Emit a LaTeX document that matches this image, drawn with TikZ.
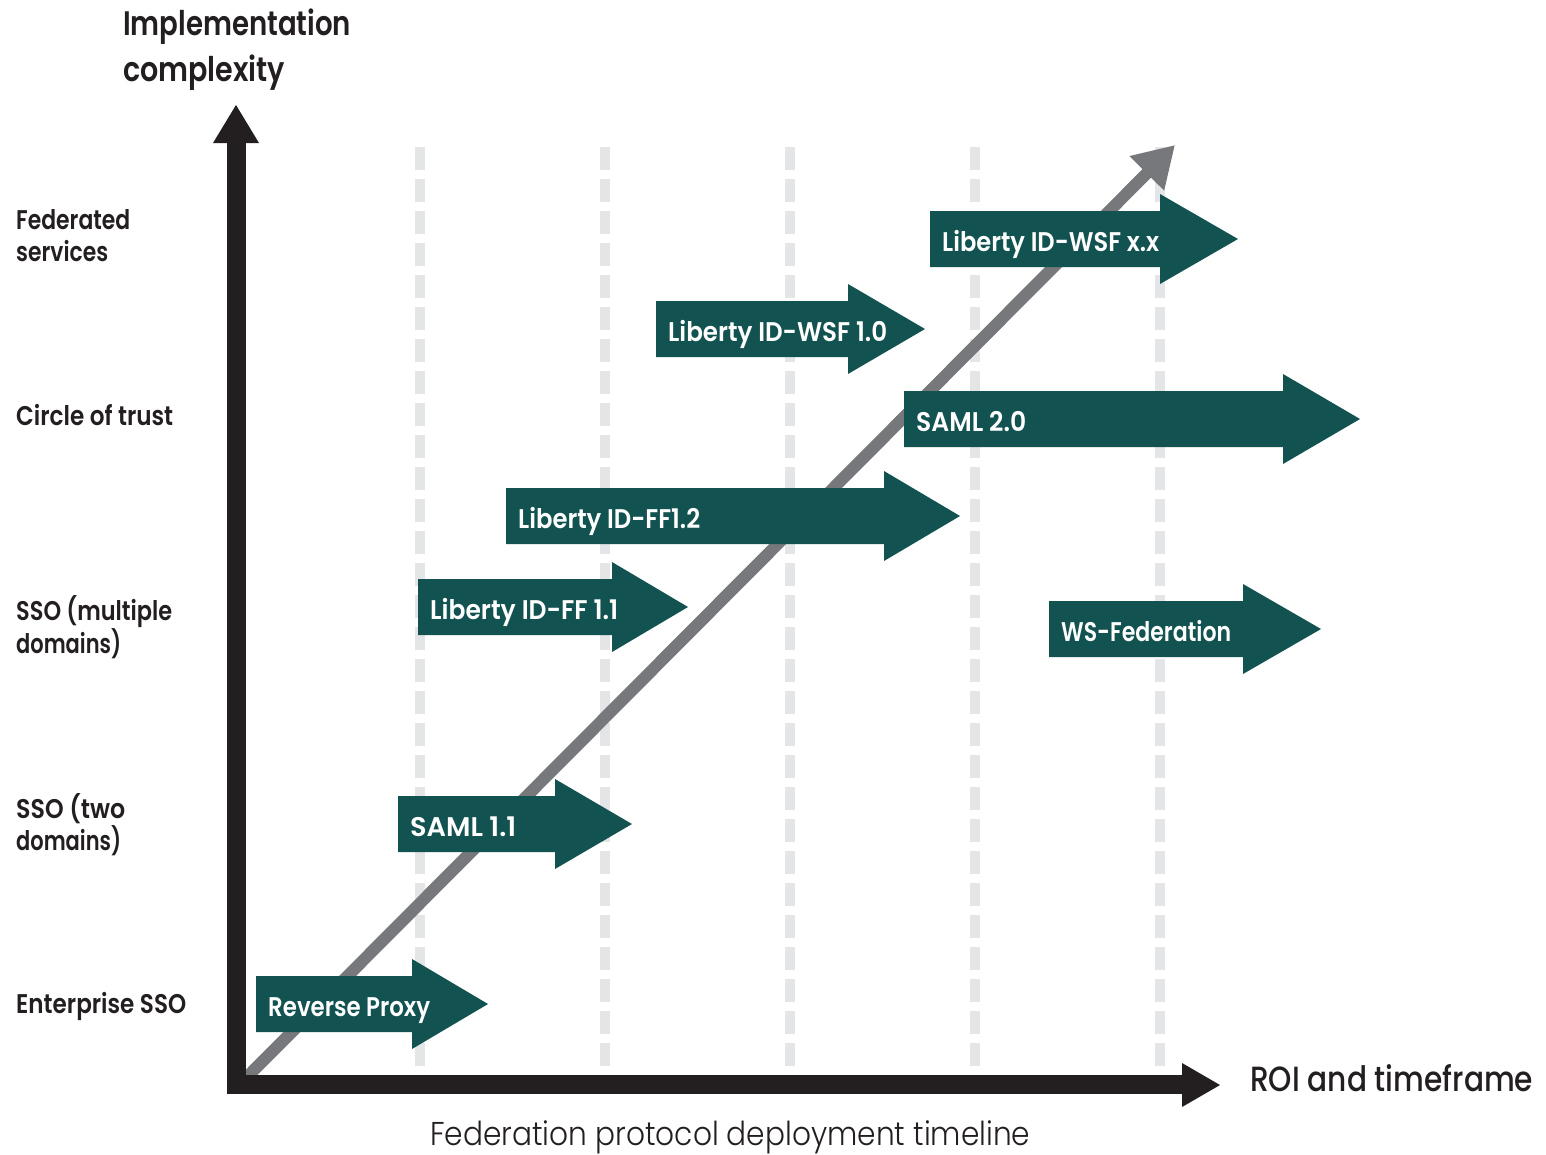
\documentclass[tikz,border=0pt]{standalone}
\usepackage{fontspec}
\usepackage{graphicx}
\usetikzlibrary{arrows.meta}
\setmainfont{Poppins}
\newfontfamily\fmed{Poppins Medium}
\newfontfamily\fsb{Poppins SemiBold}
\newfontfamily\flight{Poppins Light}
\definecolor{tealg}{RGB}{18,82,80}
\definecolor{axisk}{RGB}{35,31,32}
\definecolor{diagg}{RGB}{119,120,123}
\definecolor{dashg}{RGB}{228,229,231}
\definecolor{labk}{RGB}{35,31,32}
\newcommand{\fitto}[2]{\resizebox{#1pt}{\height}{#2}}
\newcommand{\twol}[4]{\vtop{\baselineskip=32pt\hbox{\fitto{#1}{#2}}\hbox{\fitto{#3}{#4}}}}
\tikzset{
  gridline/.style={draw=dashg, line width=10pt, dash pattern=on 23pt off 9pt},
  arrlab/.style={text=white, inner sep=0pt, anchor=base west, font=\fsb\fontsize{27}{30}\selectfont},
  sidelab/.style={text=labk, inner sep=0pt, anchor=base west, font=\fsb\fontsize{27}{32}\selectfont},
}
\newcommand{\garrow}[7]{%
  \fill[tealg] (#2,#5-28) -- (#3,#5-28) -- (#3,#5-45) -- (#4,#5) -- (#3,#5+45) -- (#3,#5+28) -- (#2,#5+28) -- cycle;
  \node[arrlab] (#1) at (#2+12,#5+12) {\fitto{#6}{#7}};
}
\begin{document}
\begin{tikzpicture}[x=1pt,y=-1pt]
\useasboundingbox[fill=white] (0,0) rectangle (1546,1154);
% dashed grid lines
\foreach \xx/\nm in {420/ga,605/gb,790/gc,975/gd,1160/ge}{
  \coordinate (\nm t) at (\xx,147);
  \coordinate (\nm b) at (\xx,1075);
  \draw[gridline] (\nm t) -- (\nm b);
}
% diagonal trend arrow
\coordinate (d0) at (244,1080);
\coordinate (d1) at (1175,145);
\draw[draw=diagg, line width=12pt, -{Triangle[length=40pt,width=46pt]}] (d0) -- (d1);
% green protocol arrows
\garrow{rp}{256}{412}{488}{1004}{162}{Reverse Proxy}
\garrow{s11}{398}{555}{632}{824}{106}{SAML 1.1}
\garrow{ff11}{418}{612}{688}{607}{188}{Liberty ID-FF 1.1}
\garrow{ff12}{506}{884}{960}{516}{182}{Liberty ID-FF1.2}
\garrow{s20}{904}{1283}{1360}{419}{110}{SAML 2.0}
\garrow{wsf10}{656}{848}{925}{329}{219}{Liberty ID-WSF 1.0}
\garrow{wsfxx}{930}{1160}{1238}{239}{217}{Liberty ID-WSF x.x}
\garrow{wsfed}{1049}{1243}{1321}{629}{170}{WS-Federation}
% axes
\fill[axisk] (227,143) rectangle (246,1094);
\fill[axisk] (213,143) -- (236,105) -- (259,143) -- cycle;
\fill[axisk] (227,1075) rectangle (1183,1094);
\fill[axisk] (1182,1063) -- (1220,1085) -- (1182,1107) -- cycle;
% axis labels
\node[sidelab, font=\fsb\fontsize{34}{46}\selectfont] (ylab) at (123,35)
  {\vtop{\baselineskip=46pt\hbox{\fitto{228}{Implementation}}\hbox{\fitto{162}{complexity}}}};
\node[sidelab, font=\fmed\fontsize{35}{40}\selectfont] (xlab) at (1250,1091) {\fitto{283}{ROI and timeframe}};
\node[sidelab, font=\flight\fontsize{33}{40}\selectfont] (tl) at (430,1145) {\fitto{600}{Federation protocol deployment timeline}};
% level labels
\node[sidelab] (l6) at (16,229) {\twol{114}{Federated}{92}{services}};
\node[sidelab] (l5) at (16,425) {\fitto{157}{Circle of trust}};
\node[sidelab] (l4) at (16,620) {\twol{156}{SSO (multiple}{105}{domains)}};
\node[sidelab] (l3) at (16,818) {\twol{109}{SSO (two}{105}{domains)}};
\node[sidelab] (l2) at (16,1013) {\fitto{170}{Enterprise SSO}};
\end{tikzpicture}
\end{document}
